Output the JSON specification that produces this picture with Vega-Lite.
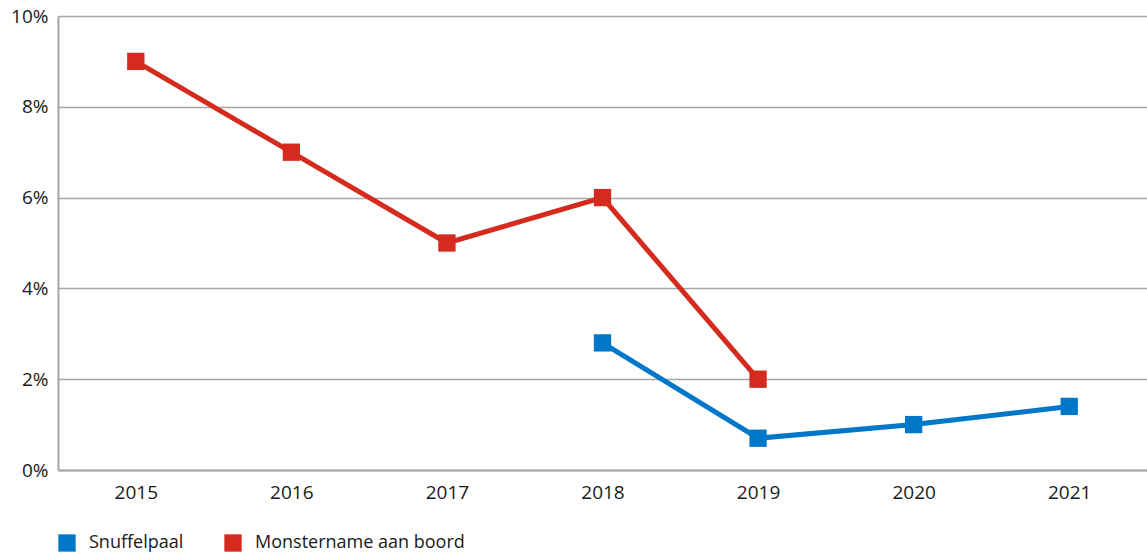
{
  "$schema": "https://vega.github.io/schema/vega-lite/v6.json",
  "width": 1089,
  "height": 454,
  "autosize": {"type": "none"},
  "padding": {"left": 58, "top": 16, "right": 0, "bottom": 85},
  "background": "white",
  "config": {
    "view": {"stroke": null},
    "font": "Open Sans"
  },
  "data": {
    "values": [
      {"jaar": "2015", "reeks": "Monstername aan boord", "waarde": 9},
      {"jaar": "2016", "reeks": "Monstername aan boord", "waarde": 7},
      {"jaar": "2017", "reeks": "Monstername aan boord", "waarde": 5},
      {"jaar": "2018", "reeks": "Monstername aan boord", "waarde": 6},
      {"jaar": "2019", "reeks": "Monstername aan boord", "waarde": 2},
      {"jaar": "2018", "reeks": "Snuffelpaal", "waarde": 2.8},
      {"jaar": "2019", "reeks": "Snuffelpaal", "waarde": 0.7},
      {"jaar": "2020", "reeks": "Snuffelpaal", "waarde": 1.0},
      {"jaar": "2021", "reeks": "Snuffelpaal", "waarde": 1.4}
    ]
  },
  "encoding": {
    "x": {
      "field": "jaar",
      "type": "ordinal",
      "scale": {"type": "point", "padding": 0.5, "domain": ["2015","2016","2017","2018","2019","2020","2021"]},
      "axis": {
        "title": null,
        "labelAngle": 0,
        "labelFontSize": 19,
        "labelColor": "#1a1a1a",
        "labelPadding": 13,
        "ticks": false,
        "domainColor": "#a6a6a6",
        "domainWidth": 2,
        "grid": false
      }
    },
    "y": {
      "field": "waarde",
      "type": "quantitative",
      "scale": {"domain": [0, 10], "nice": false},
      "axis": {
        "title": null,
        "values": [0, 2, 4, 6, 8, 10],
        "labelExpr": "datum.value + '%'",
        "labelFontSize": 19,
        "labelColor": "#1a1a1a",
        "labelPadding": 10,
        "ticks": false,
        "domainColor": "#a6a6a6",
        "domainWidth": 2,
        "gridColor": "#a6a6a6",
        "gridWidth": 1.5
      }
    },
    "color": {
      "field": "reeks",
      "type": "nominal",
      "scale": {"domain": ["Snuffelpaal", "Monstername aan boord"], "range": ["#0077c8", "#d52b1e"]},
      "legend": {
        "title": null,
        "orient": "none",
        "legendX": 0,
        "legendY": 518,
        "direction": "horizontal",
        "symbolType": "square",
        "symbolSize": 300,
        "symbolStrokeWidth": 0,
        "labelFontSize": 18,
        "labelLimit": 0,
        "labelColor": "#1a1a1a",
        "labelOffset": 13,
        "columnPadding": 40
      }
    }
  },
  "layer": [
    {"mark": {"type": "line", "strokeWidth": 5}},
    {"mark": {"type": "point", "shape": "square", "size": 300, "filled": true, "opacity": 1}}
  ]
}
